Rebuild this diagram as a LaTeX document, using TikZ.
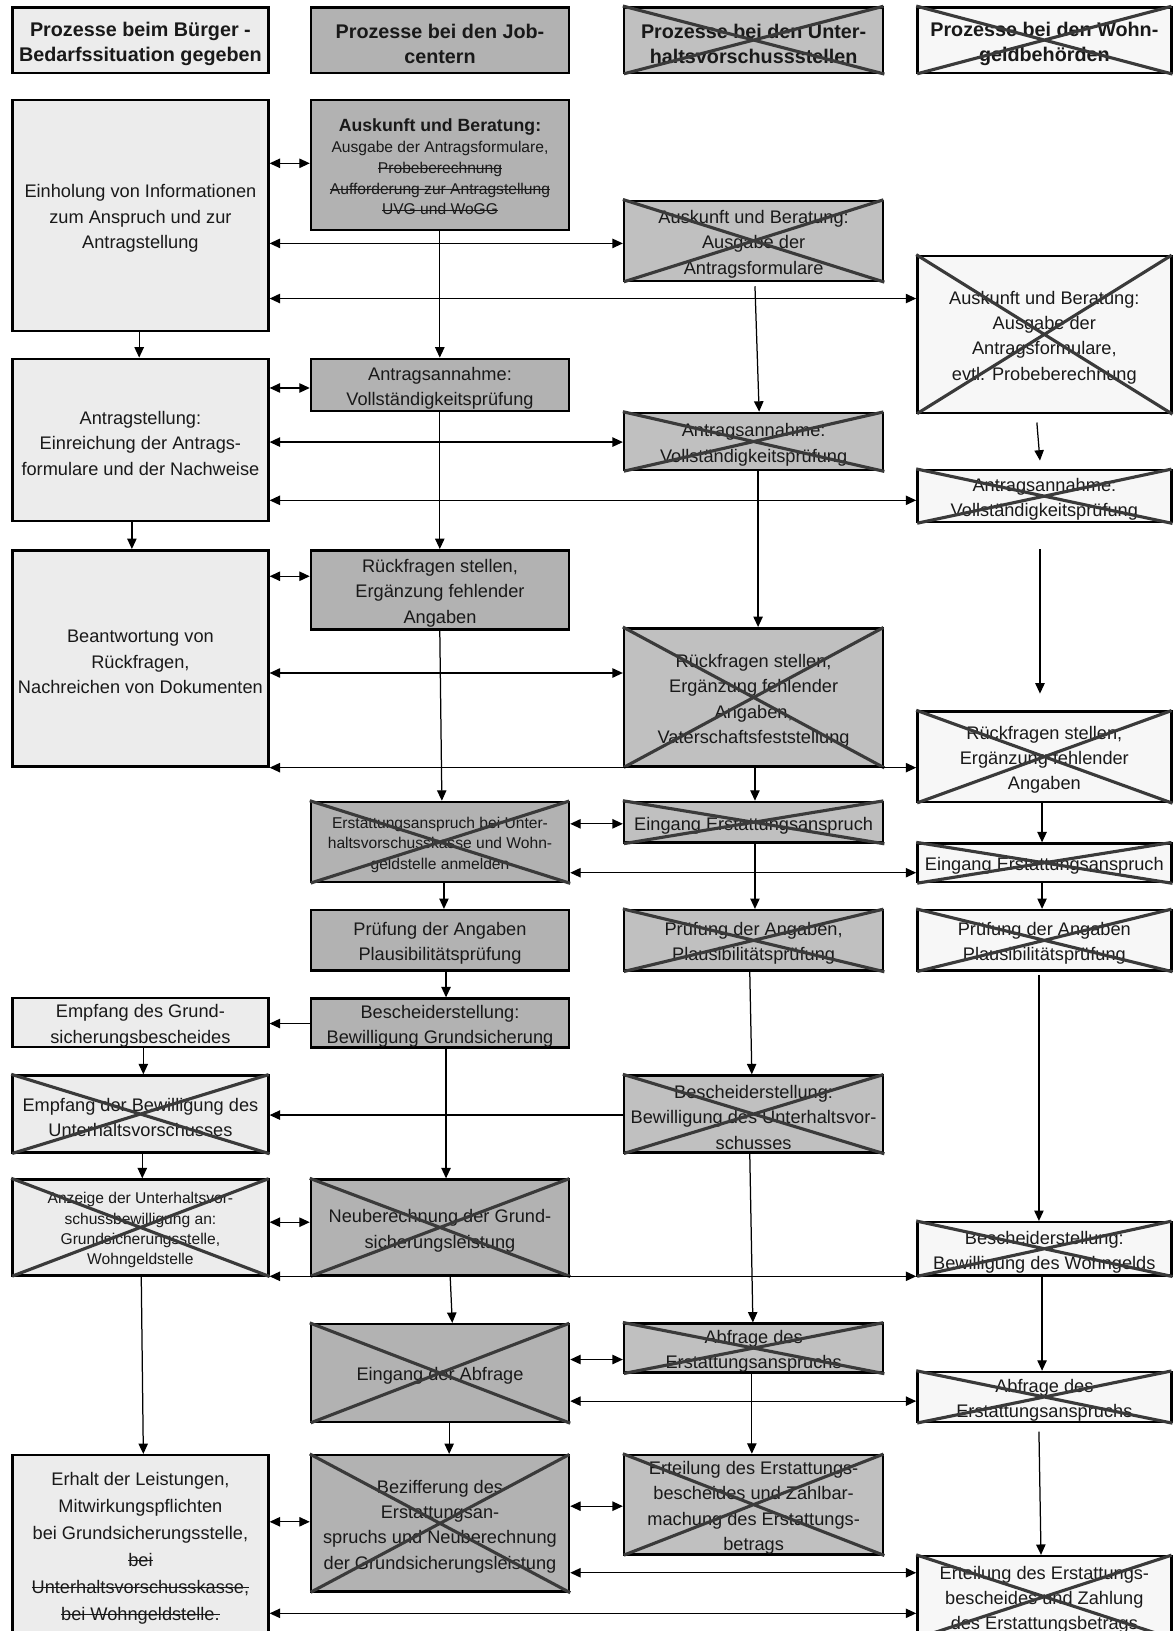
\documentclass[tikz,border=0pt]{standalone}
\usepackage{fontspec}
\setmainfont{Liberation Sans}
\usetikzlibrary{arrows.meta}
\definecolor{cA}{RGB}{236,236,236}
\definecolor{cB}{RGB}{178,178,178}
\definecolor{cC}{RGB}{192,192,192}
\definecolor{cD}{RGB}{247,247,247}
\definecolor{xg}{RGB}{58,58,58}
\newcommand\mystrike[1]{\begingroup\setbox0\hbox{#1}\rlap{\rule[0.27em]{\wd0}{0.8pt}}\box0\endgroup}
\newcommand\bx[7]{\node[#2, minimum width={(#5-#3)*1pt}, minimum height={(#6-#4)*1pt}] (#1) at ({(#3+#5)/2},{(#4+#6)/2}) {\rule{0pt}{1.08em}#7};}
\newcommand\xx[1]{\draw[xline] (#1.north west) -- (#1.south east) (#1.north east) -- (#1.south west);}
\tikzset{
  box/.style={draw=black, line width=2.4pt, inner sep=0pt, align=center, text=black!90, font=\fontsize{17.5}{24.3}\selectfont},
  colA/.style={box, fill=cA},
  colB/.style={box, fill=cB},
  colC/.style={box, fill=cC},
  colD/.style={box, fill=cD},
  hdr/.style={font=\fontsize{19}{24}\selectfont\bfseries},
  smallf/.style={font=\fontsize{15}{19.5}\selectfont},
  xline/.style={draw=xg, line width=3pt, shorten <=1pt, shorten >=1pt},
  conn/.style={line width=1.2pt, -{Triangle[length=10pt,width=9pt]}},
  dconn/.style={line width=1.2pt, {Triangle[length=10pt,width=9pt]}-{Triangle[length=10pt,width=9pt]}},
}
\begin{document}
\begin{tikzpicture}[x=1pt,y=-1pt]
\useasboundingbox (0,0) rectangle (1128,1568);
\clip (0,0) rectangle (1128,1568);
\fill[white] (0,0) rectangle (1128,1568);

% headers
\bx{H1}{colA,hdr}{12}{7}{258}{70}{Prozesse beim Bürger -\\Bedarfssituation gegeben}
\bx{H2}{colB,hdr}{299}{7}{547}{70}{Prozesse bei den Job-\\centern}
\bx{H3}{colC,hdr}{600}{7}{849}{70}{Prozesse bei den Unter-\\haltsvorschussstellen}
\bx{H4}{colD,hdr}{882}{7}{1126}{70}{Prozesse bei den Wohn-\\geldbehörden}

% column 1
\bx{A1}{colA}{12}{96}{258}{318}{Einholung von Informationen\\zum Anspruch und zur\\Antragstellung}
\bx{A2}{colA}{12}{345}{258}{501}{Antragstellung:\\Einreichung der Antrags-\\formulare und der Nachweise}
\bx{A3}{colA}{12}{529}{258}{737}{Beantwortung von\\Rückfragen,\\Nachreichen von Dokumenten}
\bx{A4}{colA}{12}{960}{258}{1006}{Empfang des Grund-\\sicherungsbescheides}
\bx{A5}{colA}{12}{1034}{258}{1108}{Empfang der Bewilligung des\\Unterhaltsvorschusses}
\bx{A6}{colA,smallf}{12}{1134}{258}{1226}{Anzeige der Unterhaltsvor-\\schussbewilligung an:\\Grundsicherungsstelle,\\Wohngeldstelle}
\bx{A7}{colA,font=\fontsize{17.5}{26}\selectfont}{12}{1399}{258}{1571}{Erhalt der Leistungen,\\Mitwirkungspflichten\\bei Grundsicherungsstelle,\\\mystrike{bei}\\\mystrike{Unterhaltsvorschusskasse,}\\\mystrike{bei Wohngeldstelle.}}

% column 2
\bx{B1}{colB,font=\fontsize{15}{20}\selectfont}{299}{96}{547}{221}{{\fontsize{17}{20}\selectfont\bfseries Auskunft und Beratung:}\\Ausgabe der Antragsformulare,\\\mystrike{Probeberechnung}\\\mystrike{Aufforderung zur Antragstellung}\\\mystrike{UVG und WoGG}}
\bx{B2}{colB}{299}{345}{547}{395}{Antragsannahme:\\Vollständigkeitsprüfung}
\bx{B3}{colB}{299}{529}{547}{605}{Rückfragen stellen,\\Ergänzung fehlender\\Angaben}
\bx{B4}{colB,smallf}{299}{771}{547}{848}{Erstattungsanspruch bei Unter-\\haltsvorschusskasse und Wohn-\\geldstelle anmelden}
\bx{B5}{colB}{299}{875}{547}{933}{Prüfung der Angaben\\Plausibilitätsprüfung}
\bx{B6}{colB}{299}{960}{547}{1007}{Bescheiderstellung:\\Bewilligung Grundsicherung}
\bx{B7}{colB}{299}{1134}{547}{1226}{Neuberechnung der Grund-\\sicherungsleistung}
\bx{B8}{colB}{299}{1273}{547}{1367}{Eingang der Abfrage}
\bx{B9}{colB}{299}{1399}{547}{1530}{Bezifferung des\\Erstattungsan-\\spruchs und Neuberechnung\\der Grundsicherungsleistung}

% column 3
\bx{C1}{colC}{600}{193}{849}{270}{Auskunft und Beratung:\\Ausgabe der\\Antragsformulare}
\bx{C2}{colC}{600}{397}{849}{452}{Antragsannahme:\\Vollständigkeitsprüfung}
\bx{C3}{colC}{600}{604}{849}{737}{Rückfragen stellen,\\Ergänzung fehlender\\Angaben,\\Vaterschaftsfeststellung}
\bx{C4}{colC}{600}{771}{849}{810}{Eingang Erstattungsanspruch}
\bx{C5}{colC}{600}{875}{849}{933}{Prüfung der Angaben,\\Plausibilitätsprüfung}
\bx{C6}{colC}{600}{1034}{849}{1108}{Bescheiderstellung:\\Bewilligung des Unterhaltsvor-\\schusses}
\bx{C7}{colC}{600}{1273}{849}{1319}{Abfrage des\\Erstattungsanspruchs}
\bx{C8}{colC}{600}{1399}{849}{1494}{Erteilung des Erstattungs-\\bescheides und Zahlbar-\\machung des Erstattungs-\\betrags}

% column 4
\bx{D1}{colD}{882}{246}{1126}{397}{Auskunft und Beratung:\\Ausgabe der\\Antragsformulare,\\evtl. Probeberechnung}
\bx{D2}{colD}{882}{452}{1126}{502}{Antragsannahme:\\Vollständigkeitsprüfung}
\bx{D3}{colD}{882}{684}{1126}{771}{Rückfragen stellen,\\Ergänzung fehlender\\Angaben}
\bx{D4}{colD}{882}{811}{1126}{848}{Eingang Erstattungsanspruch}
\bx{D5}{colD}{882}{875}{1126}{933}{Prüfung der Angaben\\Plausibilitätsprüfung}
\bx{D6}{colD}{882}{1175}{1126}{1226}{Bescheiderstellung:\\Bewilligung des Wohngelds}
\bx{D7}{colD}{882}{1319}{1126}{1367}{Abfrage des\\Erstattungsanspruchs}
\bx{D8}{colD}{882}{1496}{1126}{1574}{Erteilung des Erstattungs-\\bescheides und Zahlung\\des Erstattungsbetrags}

% crosses
\foreach \n in {H3,H4,A5,A6,B4,B7,B8,B9,C1,C2,C3,C4,C5,C6,C7,C8,D1,D2,D3,D4,D5,D6,D7,D8}{\xx{\n}}

% vertical connectors
\draw[conn] ([xshift=123]A1.south west) -- ([xshift=123]A2.north west);
\draw[conn] ([xshift=116]A2.south west) -- ([xshift=116]A3.north west);
\draw[conn] ([xshift=127]A4.south west) -- ([xshift=127]A5.north west);
\draw[conn] ([xshift=126]A5.south west) -- ([xshift=126]A6.north west);
\draw[conn] ([xshift=125]A6.south west) -- ([xshift=127]A7.north west);

\draw[conn] ([xshift=125]B1.south west) -- ([xshift=125]B2.north west);
\draw[conn] ([xshift=125]B2.south west) -- ([xshift=125]B3.north west);
\draw[conn] ([xshift=125]B3.south west) -- ([xshift=127]B4.north west);
\draw[conn] ([xshift=129]B4.south west) -- ([xshift=129]B5.north west);
\draw[conn] ([xshift=131]B5.south west) -- ([xshift=131]B6.north west);
\draw[conn] ([xshift=131]B6.south west) -- ([xshift=131]B7.north west);
\draw[conn] ([xshift=135]B7.south west) -- ([xshift=137]B8.north west);
\draw[conn] ([xshift=134]B8.south west) -- ([xshift=134]B9.north west);

\draw[conn] ([xshift=127,yshift=-4]C1.south west) -- ([xshift=131]C2.north west);
\draw[conn] ([xshift=130]C2.south west) -- ([xshift=130]C3.north west);
\draw[conn] ([xshift=127]C3.south west) -- ([xshift=127]C4.north west);
\draw[conn] ([xshift=127]C4.south west) -- ([xshift=127]C5.north west);
\draw[conn] ([xshift=122]C5.south west) -- ([xshift=124]C6.north west);
\draw[conn] ([xshift=122]C6.south west) -- ([xshift=125]C7.north west);
\draw[conn] ([xshift=124]C7.south west) -- ([xshift=124]C8.north west);

\draw[conn] ([xshift=116,yshift=-8]D1.south west) -- ([xshift=119,yshift=8]D2.north west);
\draw[conn] ([xshift=119,yshift=-25]D2.south west) -- ([xshift=119,yshift=16]D3.north west);
\draw[conn] ([xshift=121]D3.south west) -- ([xshift=121]D4.north west);
\draw[conn] ([xshift=121]D4.south west) -- ([xshift=121]D5.north west);
\draw[conn] ([xshift=118,yshift=-3]D5.south west) -- ([xshift=118]D6.north west);
\draw[conn] ([xshift=121]D6.south west) -- ([xshift=121]D7.north west);
\draw[conn] ([xshift=118,yshift=-8]D7.south west) -- ([xshift=120]D8.north west);

% horizontal levels
\foreach \y in {157,234,287,373,425,481,554,647,738,792,839,984,1072,1175,1227,1307,1347,1448,1463,1512,1551}{\coordinate (h\y) at (0,\y);}

\draw[dconn] (A1.east |- h157) -- (B1.west |- h157);
\draw[dconn] (A1.east |- h234) -- (C1.west |- h234);
\draw[dconn] (A1.east |- h287) -- (D1.west |- h287);
\draw[dconn] (A2.east |- h373) -- (B2.west |- h373);
\draw[dconn] (A2.east |- h425) -- (C2.west |- h425);
\draw[dconn] (A2.east |- h481) -- (D2.west |- h481);
\draw[dconn] (A3.east |- h554) -- (B3.west |- h554);
\draw[dconn] (A3.east |- h647) -- (C3.west |- h647);
\draw[dconn] (A3.east |- h738) -- (D3.west |- h738);
\draw[dconn] (B4.east |- h792) -- (C4.west |- h792);
\draw[dconn] (B4.east |- h839) -- (D4.west |- h839);
\draw[conn] (B6.west |- h984) -- (A4.east |- h984);
\draw[conn] (C6.west |- h1072) -- (A5.east |- h1072);
\draw[dconn] (A6.east |- h1175) -- (B7.west |- h1175);
\draw[dconn] (A6.east |- h1227) -- (D6.west |- h1227);
\draw[dconn] (B8.east |- h1307) -- (C7.west |- h1307);
\draw[dconn] (B8.east |- h1347) -- (D7.west |- h1347);
\draw[dconn] (B9.east |- h1448) -- (C8.west |- h1448);
\draw[dconn] (A7.east |- h1463) -- (B9.west |- h1463);
\draw[dconn] (B9.east |- h1512) -- (D8.west |- h1512);
\draw[dconn] (A7.east |- h1551) -- (D8.west |- h1551);
\end{tikzpicture}
\end{document}
